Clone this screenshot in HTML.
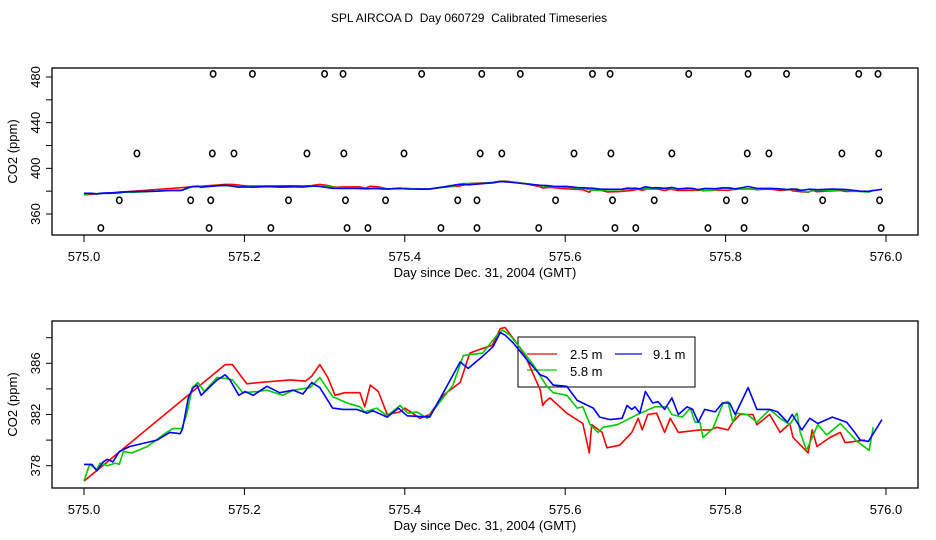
<!DOCTYPE html>
<html><head><meta charset="utf-8"><style>
html,body{margin:0;padding:0;background:#fff;}
svg{display:block;font-family:"Liberation Sans",sans-serif;}
</style></head><body>
<svg id="chart" width="936" height="540" viewBox="0 0 936 540">
<text x="469" y="22" font-size="12" text-anchor="middle" style="white-space:pre">SPL AIRCOA D  Day 060729  Calibrated Timeseries</text>
</svg>
<script>
const redT=[575.000,575.176,575.185,575.203,575.219,575.257,575.276,575.284,575.294,575.304,575.313,575.325,575.344,575.350,575.357,575.367,575.378,575.394,575.400,575.419,575.431,575.448,575.469,575.481,575.494,575.509,575.519,575.525,575.537,575.550,575.569,575.572,575.575,575.581,575.602,575.622,575.630,575.633,575.646,575.652,575.668,575.683,575.691,575.696,575.703,575.714,575.724,575.731,575.741,575.768,575.781,575.789,575.803,575.809,575.818,575.834,575.839,575.855,575.868,575.880,575.884,575.903,575.908,575.914,575.930,575.943,575.949,575.974];
const redV=[376.8,385.9,385.9,384.4,384.5,384.7,384.6,385.0,385.9,384.9,383.5,383.7,383.7,382.6,384.3,383.8,382.0,382.2,382.5,381.7,382.0,383.5,384.5,386.8,387.1,387.4,388.7,388.8,387.8,386.6,383.9,382.7,383.0,383.3,382.1,381.3,379.0,381.2,380.6,379.4,379.6,380.6,381.7,380.8,382.0,382.1,380.6,381.7,380.6,380.8,380.8,381.0,380.8,381.4,382.0,382.0,381.2,382.0,380.6,381.3,380.2,379.0,380.8,379.5,380.2,380.6,379.8,380.0];
const greenT=[575.000,575.007,575.016,575.020,575.029,575.039,575.044,575.049,575.060,575.079,575.103,575.111,575.122,575.128,575.135,575.142,575.150,575.166,575.178,575.185,575.198,575.216,575.228,575.248,575.261,575.282,575.294,575.310,575.328,575.344,575.350,575.365,575.378,575.394,575.404,575.415,575.428,575.444,575.460,575.473,575.484,575.497,575.515,575.522,575.531,575.544,575.560,575.577,575.585,575.602,575.615,575.622,575.631,575.641,575.647,575.665,575.690,575.712,575.727,575.733,575.746,575.756,575.762,575.768,575.772,575.784,575.797,575.803,575.809,575.814,575.827,575.839,575.855,575.868,575.880,575.889,575.893,575.901,575.915,575.926,575.943,575.964,575.979,575.984];
const greenV=[376.8,378.1,377.7,378.2,378.0,378.2,378.1,379.1,379.0,379.5,380.6,380.9,380.9,382.0,384.1,384.5,383.8,384.9,384.8,384.7,383.7,383.8,383.9,383.5,383.9,384.1,384.9,383.4,382.9,382.6,382.2,382.5,381.9,382.7,382.1,382.2,381.7,383.0,384.3,386.6,386.7,386.8,388.2,388.6,388.2,387.2,385.9,384.2,383.7,383.5,382.5,382.6,381.2,380.6,381.0,381.2,382.0,382.6,382.6,382.0,381.8,382.5,381.4,381.4,380.2,380.9,382.9,383.0,381.4,382.1,382.0,381.4,382.4,381.7,381.2,382.1,380.6,379.2,381.2,380.4,381.3,379.9,379.2,381.0];
const blueT=[575.000,575.010,575.016,575.024,575.029,575.036,575.044,575.057,575.091,575.107,575.120,575.123,575.130,575.136,575.141,575.146,575.166,575.176,575.182,575.193,575.201,575.211,575.228,575.244,575.261,575.273,575.284,575.294,575.310,575.323,575.340,575.353,575.360,575.378,575.392,575.403,575.431,575.448,575.469,575.479,575.498,575.510,575.519,575.525,575.535,575.552,575.569,575.577,575.585,575.602,575.615,575.635,575.643,575.656,575.671,575.677,575.683,575.687,575.693,575.700,575.709,575.716,575.724,575.733,575.741,575.752,575.759,575.766,575.774,575.787,575.796,575.805,575.812,575.828,575.839,575.855,575.865,575.877,575.883,575.895,575.905,575.915,575.933,575.951,575.961,575.968,575.978,575.995];
const blueV=[378.1,378.1,377.6,378.3,378.5,378.3,379.1,379.5,380.0,380.6,380.5,380.9,383.3,384.1,384.3,383.5,384.7,385.1,384.7,383.5,383.8,383.5,384.2,383.7,383.9,383.6,384.5,384.1,382.5,382.4,382.4,382.1,382.3,381.8,382.5,381.9,381.8,383.7,386.1,385.6,386.6,387.3,388.4,388.2,387.6,386.3,385.1,384.9,384.3,384.2,383.1,382.5,381.8,381.6,381.7,382.7,382.4,382.6,382.1,383.8,382.9,383.0,382.4,383.3,382.0,382.6,382.4,381.4,382.4,382.2,382.9,382.9,382.0,384.1,382.4,382.4,382.2,381.4,382.0,380.8,381.7,381.3,381.8,381.4,380.6,380.0,379.9,381.6];
const flag482=[575.161,575.210,575.300,575.323,575.421,575.496,575.544,575.634,575.656,575.754,575.828,575.876,575.966,575.990];
const flag413=[575.066,575.160,575.187,575.278,575.324,575.399,575.494,575.521,575.611,575.657,575.733,575.827,575.854,575.945,575.991];
const flag372=[575.044,575.133,575.158,575.255,575.326,575.376,575.466,575.490,575.588,575.659,575.711,575.801,575.824,575.921,575.992];
const flag348=[575.021,575.156,575.233,575.328,575.354,575.445,575.490,575.567,575.662,575.688,575.778,575.823,575.900,575.994];
const xTicks=[575.0,575.2,575.4,575.6,575.8,576.0];
const topYTicks=[360,380,400,420,440,460,480];
const topYLabels=[360,400,440,480];
const botYTicks=[378,380,382,384,386,388];
const botYLabels=[378,382,386];

const NS="http://www.w3.org/2000/svg";
const svg=document.getElementById('chart');
function mk(tag,attrs,parent){const e=document.createElementNS(NS,tag);for(const k in attrs)e.setAttribute(k,attrs[k]);(parent||svg).appendChild(e);return e;}
const xs=t=>84+(t-575)*802;
function panel(name,top,bottom,yScale,yTicks,yLabels,series,flags){
  const g=mk('g',{});
  
  
  const box=mk('rect',{x:52,y:top,width:866,height:bottom-top,fill:'none',stroke:'#000','stroke-width':1.3},g);
  
  
  xTicks.forEach(t=>{
    const l=mk('line',{x1:xs(t),x2:xs(t),y1:bottom,y2:bottom+7,stroke:'#000'},g);
    
    
    const tx=mk('text',{x:xs(t),y:bottom+26,'font-size':13,'text-anchor':'middle'},g);
    tx.textContent=t.toFixed(1);
    
    
  });
  yTicks.forEach(v=>{
    const l=mk('line',{x1:46,x2:52,y1:yScale(v),y2:yScale(v),stroke:'#000'},g);
    
    
  });
  yLabels.forEach(v=>{
    const tx=mk('text',{x:0,y:0,'font-size':13,'text-anchor':'middle',transform:`translate(40,${yScale(v)}) rotate(-90)`},g);
    tx.textContent=v;
    
    
  });
  const yl=mk('text',{x:0,y:0,'font-size':13,'text-anchor':'middle',transform:`translate(17,${(top+bottom)/2}) rotate(-90)`},g);
  yl.textContent='CO2 (ppm)';
  
  
  const xl=mk('text',{x:485,y:bottom+42,'font-size':13,'text-anchor':'middle'},g);
  xl.textContent='Day since Dec. 31, 2004 (GMT)';
  
  
  if(flags){flags.forEach(([arr,v])=>arr.forEach(t=>{
    const c=mk('ellipse',{cx:xs(t),cy:yScale(v),rx:2.7,ry:3.2,fill:'none',stroke:'#000','stroke-width':1.5},g);
    
    
  }));}
  series.forEach(([T,V,col,nm])=>{
    const p=mk('polyline',{points:T.map((t,i)=>xs(t).toFixed(1)+','+yScale(V[i]).toFixed(1)).join(' '),fill:'none',stroke:col,'stroke-width':1.6,'stroke-linejoin':'round'},g);
    
    
  });
}
const ser=[[redT,redV,'#ff0000','series-2-5m'],[greenT,greenV,'#00cc00','series-5-8m'],[blueT,blueV,'#0000ff','series-9-1m']];
panel('top-panel',68,235,v=>214-(v-360)*1.1417,topYTicks,topYLabels,ser,[[flag482,482.7],[flag413,413],[flag372,372],[flag348,347.7]]);
// legend
const lg=mk('g',{});


mk('rect',{x:518,y:337,width:177,height:50,fill:'none',stroke:'#000'},lg);
[[527,557,354,'#ff0000',570,359,'2.5 m'],[615,642,354,'#0000ff',653,359,'9.1 m'],[527,557,370,'#00cc00',570,376,'5.8 m']].forEach(e=>{
  const l=mk('line',{x1:e[0],x2:e[1],y1:e[2],y2:e[2],stroke:e[3],'stroke-width':1.3},lg);
  
  
  const t=mk('text',{x:e[4],y:e[5],'font-size':13},lg);
  t.textContent=e[6];
  
  
});
panel('bottom-panel',321,488,v=>363.3-(v-386)*12.8,botYTicks,botYLabels,ser,null);
</script>
</body></html>
